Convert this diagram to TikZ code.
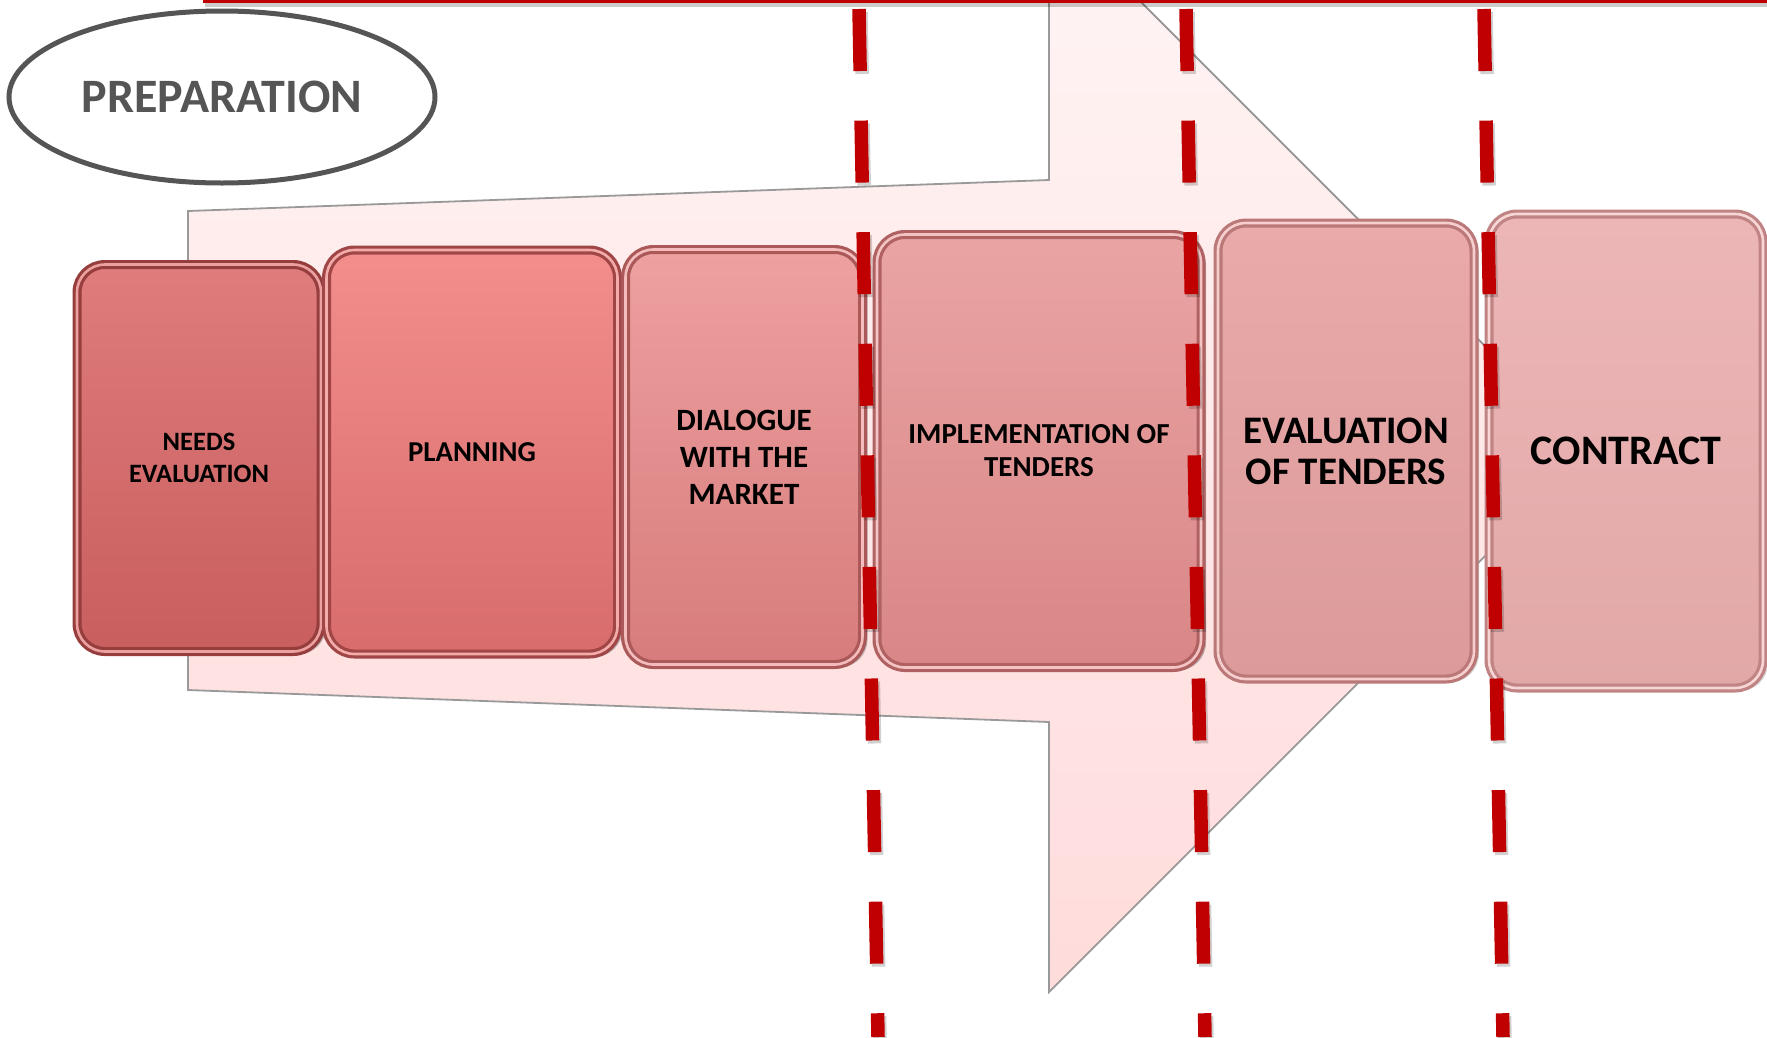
\documentclass[tikz,border=0pt]{standalone}
\usepackage{fontspec}
\setmainfont{Carlito}
\usetikzlibrary{shapes.geometric,shadows}
\definecolor{dashred}{HTML}{C00000}
\definecolor{preptext}{HTML}{555555}
\begin{document}
\begin{tikzpicture}[x=1pt,y=-1pt,
  stage/.style={rectangle, rounded corners=28pt, line width=3.2pt, double distance=2.6pt,
    inner sep=0pt, align=center, text=black},
  darkshadow/.style={drop shadow={shadow xshift=5pt,shadow yshift=-3pt,opacity=0.55}},
  lightshadow/.style={drop shadow={shadow xshift=5pt,shadow yshift=-3pt,opacity=0.3}},
  cut/.style={draw=dashred, line width=13.5pt, dash pattern=on 62pt off 49.6pt},
  cutshadow/.style={draw=black, opacity=0.18, line width=13.5pt, dash pattern=on 62pt off 49.6pt}]
\useasboundingbox (0,0) rectangle (1767,1037);
\clip (0,0) rectangle (1767,1037);
% big arrow
\draw[draw=gray!80, line width=1.8pt, top color=red!4, bottom color=red!14, line join=miter]
  (188,211) -- (1049,180) -- (1049,-90) -- (1590,451) -- (1049,992) -- (1049,722) -- (188,690) -- cycle;
% top red line
\draw[black,opacity=0.2,line width=4pt] (205,5) -- (1767,5);
\draw[dashred,line width=3pt] (203,1.5) -- (1767,1.5);
% ellipse
\node (prep) [ellipse, draw=preptext, line width=5pt, minimum width=426pt, minimum height=172pt,
  text=preptext, font=\bfseries\fontsize{48}{52}\selectfont] at (222,97) {PREPARATION};
% stages
\node (s1) [stage, darkshadow, draw={rgb,255:red,150;green,62;blue,62}, double={rgb,255:red,236;green,160;blue,160},
  top color={rgb,255:red,223;green,124;blue,124}, bottom color={rgb,255:red,201;green,94;blue,94},
  minimum width=244pt, minimum height=387pt, font=\bfseries\fontsize{26.5}{32}\selectfont] at (199,458) {NEEDS\\EVALUATION};
\node (s2) [stage, darkshadow, draw={rgb,255:red,160;green,70;blue,70}, double={rgb,255:red,244;green,172;blue,170},
  top color={rgb,255:red,242;green,142;blue,140}, bottom color={rgb,255:red,216;green,108;blue,108},
  minimum width=291pt, minimum height=404pt, font=\bfseries\fontsize{28.8}{32}\selectfont] at (472,452) {PLANNING};
\node (s3) [stage, darkshadow, draw={rgb,255:red,170;green,88;blue,88}, double={rgb,255:red,244;green,188;blue,188},
  top color={rgb,255:red,238;green,160;blue,160}, bottom color={rgb,255:red,215;green,124;blue,124},
  minimum width=237pt, minimum height=415pt, font=\bfseries\fontsize{31}{37}\selectfont] at (744,457) {DIALOGUE\\WITH THE\\MARKET};
\node (s4) [stage, darkshadow, draw={rgb,255:red,176;green,98;blue,98}, double={rgb,255:red,244;green,196;blue,196},
  top color={rgb,255:red,234;green,164;blue,164}, bottom color={rgb,255:red,217;green,134;blue,134},
  minimum width=324pt, minimum height=433pt, font=\bfseries\fontsize{29}{33}\selectfont] at (1039,451) {IMPLEMENTATION OF\\TENDERS};
\node (s5) [stage, lightshadow, draw={rgb,255:red,186;green,120;blue,120}, double={rgb,255:red,246;green,206;blue,206},
  top color={rgb,255:red,234;green,170;blue,170}, bottom color={rgb,255:red,220;green,154;blue,154},
  minimum width=256pt, minimum height=456pt, font=\bfseries\fontsize{39}{41}\selectfont] at (1346,451) {EVALUATION\\OF TENDERS};
\node (s6) [stage, lightshadow, draw={rgb,255:red,192;green,132;blue,132}, double={rgb,255:red,248;green,214;blue,214},
  top color={rgb,255:red,237;green,182;blue,182}, bottom color={rgb,255:red,226;green,168;blue,168},
  minimum width=274pt, minimum height=474pt, font=\bfseries\fontsize{42}{44}\selectfont] at (1626,451) {CONTRACT};
% dashed cut lines
\coordinate (c1a) at (859,9);  \coordinate (c1b) at (878,1037);
\coordinate (c2a) at (1186,9); \coordinate (c2b) at (1205,1037);
\coordinate (c3a) at (1484,9); \coordinate (c3b) at (1503,1037);
\foreach \a/\b in {c1a/c1b,c2a/c2b,c3a/c3b}{
  \draw[cutshadow,transform canvas={xshift=2pt,yshift=-3pt}] (\a) -- (\b);
  \draw[cut] (\a) -- (\b);
}
\end{tikzpicture}
\end{document}
